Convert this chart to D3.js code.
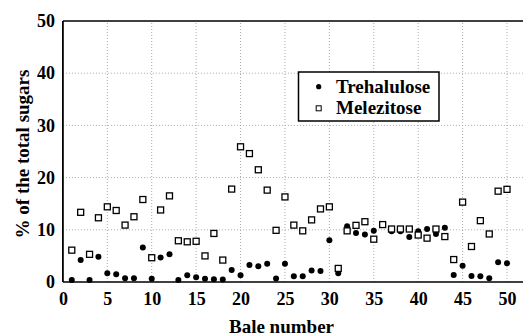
<!DOCTYPE html>
<html><head><meta charset="utf-8">
<script src="https://cdn.jsdelivr.net/npm/d3@7"></script>
<style>body{margin:0;background:#fff}svg{display:block}
svg text{font-family:"Liberation Serif","Times New Roman",Times,"DejaVu Serif",serif;font-weight:bold;fill:#000}</style>
</head><body>
<script>
const bales = d3.range(1, 51);
const trehalulose = [0.4,4.2,0.4,4.85,1.7,1.5,0.7,0.7,6.6,0.6,4.7,5.3,0.4,1.3,0.9,0.6,0.55,0.5,2.3,1.3,3.25,3.0,3.5,0.65,3.5,1.1,1.1,2.2,2.1,8.0,1.7,10.7,9.4,9.1,9.8,10.9,9.7,9.7,8.6,9.7,10.15,9.2,10.4,1.35,3.1,1.15,1.1,0.7,3.8,3.6];
const melezitose = [6.1,13.35,5.3,12.3,14.4,13.7,10.9,12.5,15.8,4.65,13.8,16.5,7.9,7.7,7.8,5.0,9.3,4.2,17.8,25.9,24.6,21.5,17.6,9.9,16.3,10.9,9.8,11.9,14.0,14.4,2.6,9.8,10.85,11.55,8.2,11.0,10.15,10.15,10.15,9.0,8.4,10.15,8.7,4.3,15.3,6.8,11.75,9.2,17.4,17.75];
const xTicks = [0,5,10,15,20,25,30,35,40,45,50];
const yTicks = [0,10,20,30,40,50];
const seriesNames = ["Trehalulose","Melezitose"];

const W = 523, H = 336;
const svg = d3.select("body").append("svg").attr("width", W).attr("height", H);
const x = d3.scaleLinear().domain([0, 51.8]).range([62.9, 523]);
const y = d3.scaleLinear().domain([0, 50]).range([282, 21]);

// grid
const g = svg.append("g");
g.selectAll(".vg").data(xTicks.filter(d => d > 0)).enter().append("line")
  .attr("x1", d => x(d)).attr("x2", d => x(d)).attr("y1", y(0)).attr("y2", y(50))
  .attr("stroke", "#aaa").attr("stroke-width", 1).attr("stroke-dasharray", "1,2");
g.selectAll(".hg").data(yTicks.filter(d => d > 0 && d < 50)).enter().append("line")
  .attr("x1", x(0)).attr("x2", W).attr("y1", d => y(d)).attr("y2", d => y(d))
  .attr("stroke", "#aaa").attr("stroke-width", 1).attr("stroke-dasharray", "1,2");

// axes
const xAxis = d3.axisBottom(x).tickValues(xTicks).tickSize(0).tickPadding(10);
const yAxis = d3.axisLeft(y).tickValues(yTicks).tickSize(0).tickPadding(8);
const xa = svg.append("g").attr("transform", `translate(0,${y(0)})`).call(xAxis);
const ya = svg.append("g").attr("transform", `translate(${x(0)},0)`).call(yAxis);
[xa, ya].forEach(a => {
  a.attr("font-family", null).attr("font-size", null);
  a.select(".domain").remove();
  a.selectAll("text").style("font-size", "18px");
});
xa.selectAll("text").attr("dy", "0.71em");
svg.append("line").attr("x1", x(0)).attr("x2", W).attr("y1", y(0)).attr("y2", y(0)).attr("stroke", "#000").attr("stroke-width", 1.5);
svg.append("line").attr("x1", x(0)).attr("x2", W).attr("y1", y(50)).attr("y2", y(50)).attr("stroke", "#000").attr("stroke-width", 1.5);
svg.append("line").attr("x1", x(0)).attr("x2", x(0)).attr("y1", y(0)).attr("y2", y(50)).attr("stroke", "#000").attr("stroke-width", 1.8);

// titles
svg.append("text").attr("x", 281.5).attr("y", 333).attr("text-anchor", "middle")
  .style("font-size", "19px").text("Bale number");
svg.append("text").attr("transform", "translate(29,154) rotate(-90)").attr("text-anchor", "middle")
  .style("font-size", "19px").text("% of the total sugars");

// points
svg.append("g").selectAll("circle").data(bales).enter().append("circle")
  .attr("cx", d => x(d)).attr("cy", (d, i) => y(trehalulose[i])).attr("r", 3).attr("fill", "#000");
const s = 6;
svg.append("g").selectAll("rect").data(bales).enter().append("rect")
  .attr("x", d => x(d) - s/2).attr("y", (d, i) => y(melezitose[i]) - s/2)
  .attr("width", s).attr("height", s).attr("fill", "#fff").attr("stroke", "#000").attr("stroke-width", 1.3);

// legend
const lg = svg.append("g");
lg.append("rect").attr("x", 298.5).attr("y", 72).attr("width", 140.5).attr("height", 49)
  .attr("fill", "#fff").attr("stroke", "#000").attr("stroke-width", 1.5);
lg.append("circle").attr("cx", 318.7).attr("cy", 86.7).attr("r", 2.6).attr("fill", "#000");
lg.append("rect").attr("x", 318.7 - 2.5).attr("y", 108.3 - 2.5).attr("width", 5).attr("height", 5)
  .attr("fill", "#fff").attr("stroke", "#000").attr("stroke-width", 1);
lg.append("text").attr("x", 336).attr("y", 92.5).style("font-size", "19px").text(seriesNames[0]);
lg.append("text").attr("x", 336).attr("y", 114.3).style("font-size", "19px").text(seriesNames[1]);
</script>
</body></html>
